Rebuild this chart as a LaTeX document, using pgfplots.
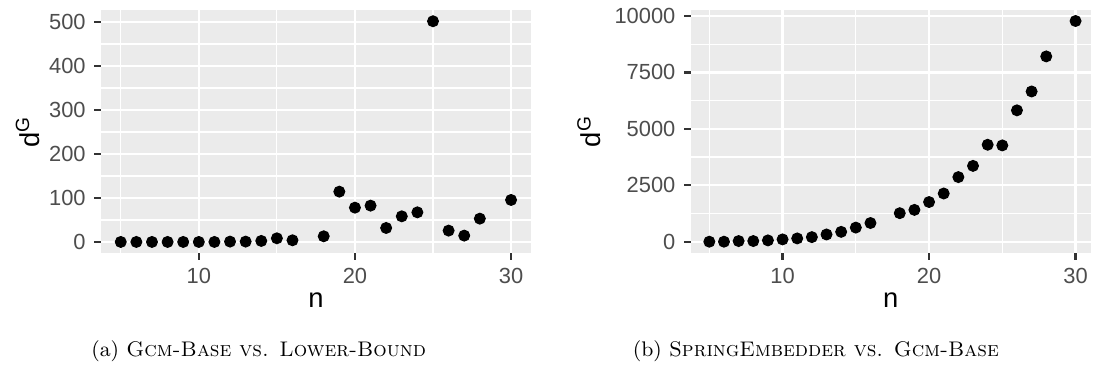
\documentclass[border=0pt]{standalone}
\usepackage{fontspec}
\usepackage{pgfplots}
\pgfplotsset{compat=1.18}
\newfontfamily\hv{Liberation Sans}
\definecolor{panelbg}{HTML}{EBEBEB}
\definecolor{tickgrey}{HTML}{4D4D4D}
\definecolor{tickmark}{HTML}{333333}
\pgfplotsset{
  ggstyle/.style={
    scale only axis,
    axis background/.style={fill=panelbg},
    axis x line*=bottom, axis y line*=left,
    axis line style={draw=none},
    tick align=outside,
    major tick length=2.75pt,
    minor tick length=0pt,
    tick style={color=tickmark, line width=0.9pt},
    grid=both,
    major grid style={white, line width=0.95pt},
    minor grid style={white, line width=0.5pt},
    tick label style={font=\hv\fontsize{8.8}{10}\selectfont, text=tickgrey},
    /pgf/number format/assume math mode=true,
    /pgf/number format/1000 sep={},
    scaled ticks=false,
    xtick={10,20,30},
    minor xtick={5,15,25},
    xlabel={n},
    ylabel={d\textsuperscript{G}},
    label style={font=\hv\fontsize{11}{13}\selectfont, text=black},
    xlabel style={at={([yshift=-22pt]axis description cs:0.5,0)}, anchor=base},
    height=97.6pt,
    xmin=3.75,
  },
  dots/.style={only marks, mark=*, mark size=2.2pt, mark options={fill=black, draw=none}},
}
\begin{document}
\begin{tikzpicture}
\path (0,0) rectangle (438.4pt,148.4pt);
\begin{axis}[ggstyle,
  at={(40.7pt,47.1pt)}, anchor=south west,
  width=172.6pt,
  xmax=31.25,
  ymin=-25.1, ymax=527.1,
  ytick={0,100,200,300,400,500},
  minor ytick={50,150,250,350,450},
  ylabel style={at={([xshift=-29.6pt]axis description cs:0,0.5)}, anchor=center},
]
\addplot[dots] coordinates {
(5,0) (6,0) (7,0) (8,0) (9,0) (10,0) (11,0) (12,0.8) (13,0.8) (14,2.3) (15,8.3) (16,3.8)
(18,12.9) (19,114.4) (20,78) (21,82.6) (22,31.8) (23,58.3) (24,67.4) (25,502)
(26,25.8) (27,14.4) (28,53) (30,95.5)
};
\end{axis}
\begin{axis}[ggstyle,
  at={(277.8pt,47.2pt)}, anchor=south west,
  width=160.6pt,
  xmax=31.02,
  ymin=-489, ymax=10269,
  ytick={0,2500,5000,7500,10000},
  minor ytick={1250,3750,6250,8750},
  ylabel style={at={([xshift=-41pt]axis description cs:0,0.5)}, anchor=center},
]
\addplot[dots] coordinates {
(5,0) (6,0) (7,29) (8,29) (9,58) (10,102) (11,145) (12,203) (13,320) (14,436) (15,625) (16,828)
(18,1264) (19,1410) (20,1758) (21,2136) (22,2863) (23,3360) (24,4296) (25,4267)
(26,5821) (27,6657) (28,8211) (30,9780)
};
\end{axis}
\node[anchor=base, inner sep=0pt, font=\fontsize{8.5}{10}\selectfont] at (104pt,5.6pt) {(a) \textsc{Gcm-Base vs. Lower-Bound}};
\node[anchor=base, inner sep=0pt, font=\fontsize{8.5}{10}\selectfont] at (328pt,5.6pt) {(b) \textsc{SpringEmbedder vs. Gcm-Base}};
\end{tikzpicture}
\end{document}
